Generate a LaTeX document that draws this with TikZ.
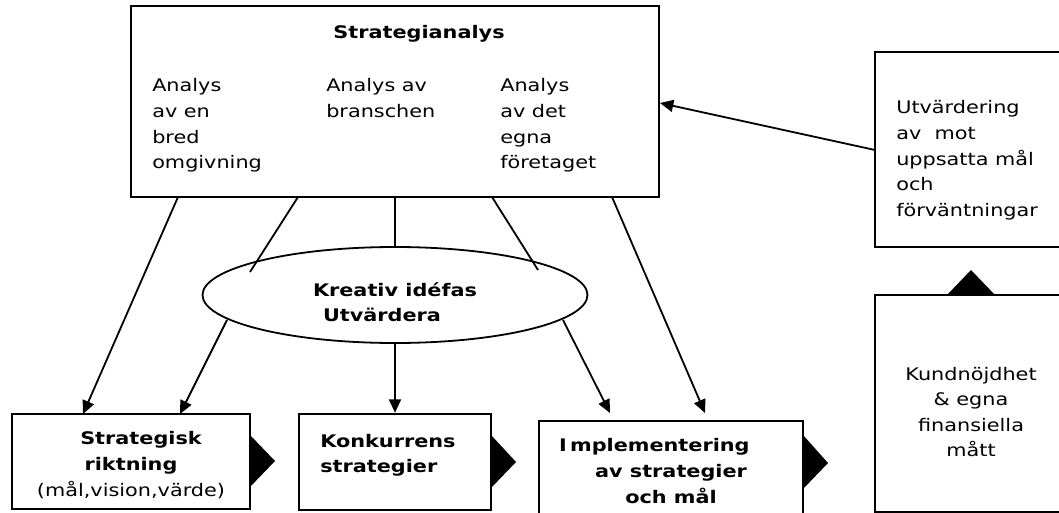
\documentclass[tikz,border=0pt]{standalone}
\usepackage{fontspec}
\setmainfont[FakeStretch=1.2]{DejaVu Sans}
\usetikzlibrary{arrows.meta,shapes.geometric}
\begin{document}
\begin{tikzpicture}[x=0.75pt,y=-0.75pt,
  box/.style={draw,line width=1.9pt,rectangle,inner sep=0pt},
  txt/.style={inner sep=0pt,font=\fontsize{13pt}{19.2pt}\selectfont},
  btxt/.style={inner sep=0pt,font=\fontsize{13pt}{19.2pt}\selectfont\bfseries},
  conn/.style={line width=1.35pt},
  arr/.style={conn,-{Triangle[length=10pt,width=9pt]}},
  tri/.style={fill=black}]
\useasboundingbox (0,0) rectangle (1059,513);
\clip (0,0) rectangle (1059,513);
% boxes
\node[box,minimum width=396pt,minimum height=143.25pt] (sa) at (395,101.5) {};
\node[box,minimum width=153.75pt,minimum height=146.25pt] (ut) at (977.5,149.5) {};
\node[box,minimum width=153.75pt,minimum height=162.75pt] (ku) at (977.5,403.5) {};
\node[box,minimum width=178.5pt,minimum height=71.25pt] (sr) at (131,461.5) {};
\node[box,minimum width=144pt,minimum height=72pt] (ks) at (395,462) {};
\node[box,minimum width=198pt,minimum height=81.75pt] (im) at (671,475.5) {};
\node[draw,ellipse,line width=1.35pt,minimum width=288.75pt,minimum height=72pt,inner sep=0pt] (el) at (395,295) {};
% texts (base anchor = baseline of last line)
\node[btxt,anchor=base] (t0) at (419,39) {Strategianalys};
\node[txt,anchor=base west,align=left] (t1) at (152,168.8) {Analys\\av en\\bred\\omgivning};
\node[txt,anchor=base west,align=left] (t2) at (326,117.6) {Analys av\\branschen};
\node[txt,anchor=base west,align=left] (t3) at (500,168.8) {Analys\\av det\\egna\\företaget};
\node[txt,anchor=base west,align=left] (t4) at (896,216.4) {Utvärdering\\av\ \ mot\\uppsatta mål\\och\\förväntningar};
\node[txt,anchor=base,align=center] (t5) at (971,456.8) {Kundnöjdhet\\\& egna\\finansiella\\mått};
\node[btxt,align=left] (t6) at (395,302) {Kreativ idéfas\\\hspace*{7.5pt}Utvärdera};
\node[btxt,anchor=base,align=center] (t7) at (131,496) {\hspace*{15pt}Strategisk\\riktning\\\mdseries(mål,vision,värde)};
\node[btxt,anchor=base west,align=left] (t8) at (320,472.6) {Konkurrens\\strategier};
\node[btxt,anchor=base,align=center] (t9) at (671,503) {I\kern2.5pt mplementering\hspace*{25pt}\\av strategier\\och mål};
% coordinates
\coordinate (a1) at (178,197); \coordinate (a2) at (83,414);
\coordinate (b1) at (298,197); \coordinate (b2) at (250,272);
\coordinate (b3) at (227,320); \coordinate (b4) at (180,414);
\coordinate (d1) at (492,197); \coordinate (d2) at (538,270);
\coordinate (d3) at (563,320); \coordinate (d4) at (610,413);
\coordinate (e1) at (612,197); \coordinate (e2) at (705,413);
\coordinate (u1) at (875,150); \coordinate (u2) at (660,103);
% connectors
\draw[arr] (a1) -- (a2);
\draw[conn] (b1) -- (b2);
\draw[arr] (b3) -- (b4);
\draw[conn] (sa.south) -- (el.north);
\draw[arr] (el.south) -- (ks.north);
\draw[conn] (d1) -- (d2);
\draw[arr] (d3) -- (d4);
\draw[arr] (e1) -- (e2);
\draw[arr] (u1) -- (u2);
% triangles
\fill[tri] (947,295) -- (971,270) -- (995,295) -- cycle;
\fill[tri] (250,435) -- (275,461) -- (250,487) -- cycle;
\fill[tri] (491,435) -- (516,462) -- (491,488) -- cycle;
\fill[tri] (803,435) -- (828,463) -- (803,489) -- cycle;
\end{tikzpicture}
\end{document}
